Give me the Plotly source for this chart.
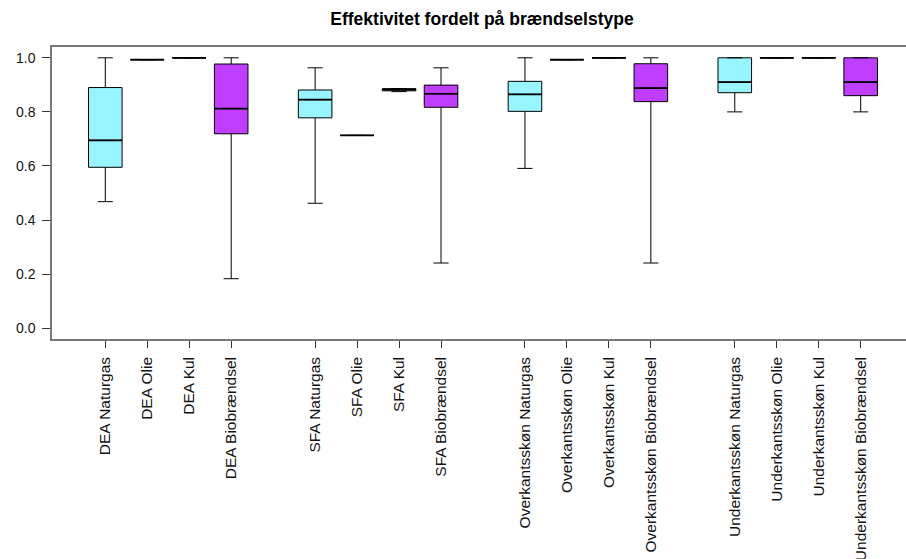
import plotly.graph_objects as go

# Methods and fuel types
methods = ["DEA", "SFA", "Overkantsskøn", "Underkantsskøn"]
fuels = ["Naturgas", "Olie", "Kul", "Biobrændsel"]

# Five-number summaries per box, ordered method by method, fuel by fuel
lower = [0.468, 0.993, 1.000, 0.183,
         0.462, 0.713, 0.875, 0.241,
         0.591, 0.993, 1.000, 0.241,
         0.800, 1.000, 1.000, 0.800]
q1 = [0.595, 0.993, 1.000, 0.719,
      0.778, 0.713, 0.878, 0.817,
      0.802, 0.993, 1.000, 0.838,
      0.871, 1.000, 1.000, 0.860]
median = [0.695, 0.993, 1.000, 0.812,
          0.845, 0.713, 0.882, 0.867,
          0.865, 0.993, 1.000, 0.888,
          0.910, 1.000, 1.000, 0.910]
q3 = [0.890, 0.993, 1.000, 0.977,
      0.881, 0.713, 0.886, 0.899,
      0.913, 0.993, 1.000, 0.978,
      1.000, 1.000, 1.000, 1.000]
upper = [1.000, 0.993, 1.000, 1.000,
         0.963, 0.713, 0.886, 0.963,
         1.000, 0.993, 1.000, 1.000,
         1.000, 1.000, 1.000, 1.000]

fill_colors = {"Naturgas": "#98F5FF", "Olie": "#98F5FF", "Kul": "#98F5FF",
               "Biobrændsel": "#BF3EFF"}

labels, positions, fills = [], [], []
for gi, m in enumerate(methods):
    for fi, f in enumerate(fuels):
        labels.append(f"{m} {f}")
        positions.append(gi * (len(fuels) + 1) + fi + 1)
        fills.append(fill_colors[f])

BOX_W = 0.8
fig = go.Figure()
for i in range(len(labels)):
    fig.add_trace(go.Box(
        x=[positions[i]],
        q1=[q1[i]], median=[median[i]], q3=[q3[i]],
        lowerfence=[lower[i]], upperfence=[upper[i]],
        width=BOX_W, whiskerwidth=0.45,
        fillcolor=fills[i],
        line=dict(color="black", width=1),
        boxpoints=False, hoverinfo="skip", showlegend=False,
    ))

# Slightly thicker median bars, as in base R boxplots
mx, my = [], []
for p, m in zip(positions, median):
    mx += [p - BOX_W / 2, p + BOX_W / 2, None]
    my += [m, m, None]
fig.add_trace(go.Scatter(x=mx, y=my, mode="lines",
                         line=dict(color="black", width=1.7),
                         hoverinfo="skip", showlegend=False))

font = "Liberation Sans, Arial, sans-serif"
fig.update_layout(
    width=906, height=559,
    margin=dict(l=52, r=0, t=47, b=220),
    paper_bgcolor="white", plot_bgcolor="white",
    font=dict(family=font, size=14, color="black"),
    title=dict(text="<b>Effektivitet fordelt på brændselstype</b>",
               x=0.532, xanchor="center", y=0.967, yanchor="middle",
               font=dict(size=17.5, family=font)),
    xaxis=dict(range=[-0.27, 20.08], tickvals=positions, ticktext=labels,
               tickangle=-90, ticks="outside", ticklen=7, tickcolor="#333",
               showline=True, linecolor="#777", linewidth=1.5, mirror=True,
               showgrid=False, zeroline=False, ticklabelstandoff=3,
               automargin=False,
               tickfont=dict(size=15.5, family=font, color="#111")),
    yaxis=dict(range=[-0.04, 1.04], tickvals=[0, 0.2, 0.4, 0.6, 0.8, 1.0],
               tickformat=".1f", ticks="outside", ticklen=8, tickcolor="#333",
               showline=True, linecolor="#777", linewidth=1.5, mirror=False,
               showgrid=False, zeroline=False, ticklabelstandoff=4,
               automargin=False,
               tickfont=dict(size=14, family=font, color="#111")),
)

fig.write_html("out.html")
